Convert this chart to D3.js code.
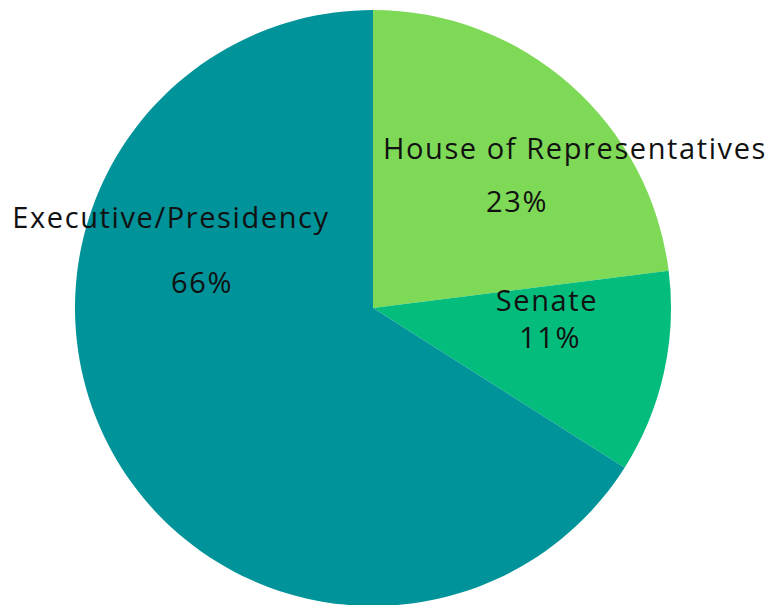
<html>
    <head>
        <title>Pie Chart</title>
        <script src="https://cdn.jsdelivr.net/npm/d3@7"></script>
        <style>
            body { margin: 0; background: #fff; }
            text { font-family: "Open Sans", sans-serif; fill: #111; letter-spacing: 1.6px; }
        </style>
    </head>
    <body>
        <script type="text/javascript">

            // data, in drawing order (clockwise from 12 o'clock)
            var categories = ["House of Representatives", "Senate", "Executive/Presidency"];
            var shares = [23, 11, 66];
            var colors = ["#7ed957", "#04bc7c", "#00939a"];

            // canvas
            var w = 772;
            var h = 605;
            var cx = 373;
            var cy = 308;
            var radius = 298;

            var svg = d3.select("body")
                        .append("svg")
                        .attr("width", w)
                        .attr("height", h);

            var g = svg.append("g")
                        .attr("transform", "translate(" + cx + "," + cy + ")");

            var pie = d3.pie().sort(null).value(function(d) { return d; });
            var arc = d3.arc().innerRadius(0).outerRadius(radius);

            var slices = pie(shares);

            g.selectAll("path")
                .data(slices)
                .enter()
                .append("path")
                .attr("d", arc)
                .attr("fill", function(d, i) { return colors[i]; });

            // label placement relative to centre: name line and percent line
            var nameOffset = [[202, -149], [174, 3], [-202, -80]];
            var pctOffset = [[144, -96], [177, 40], [-171, -15]];

            g.selectAll("text.name")
                .data(slices)
                .enter()
                .append("text")
                .attr("class", "name")
                .attr("x", function(d, i) { return nameOffset[i][0]; })
                .attr("y", function(d, i) { return nameOffset[i][1]; })
                .attr("text-anchor", "middle")
                .style("font-size", "29px")
                .text(function(d, i) { return categories[i]; });

            g.selectAll("text.pct")
                .data(slices)
                .enter()
                .append("text")
                .attr("class", "pct")
                .attr("x", function(d, i) { return pctOffset[i][0]; })
                .attr("y", function(d, i) { return pctOffset[i][1]; })
                .attr("text-anchor", "middle")
                .style("font-size", "29px")
                .text(function(d) { return d.value + "%"; });

        </script>
    </body>
</html>
